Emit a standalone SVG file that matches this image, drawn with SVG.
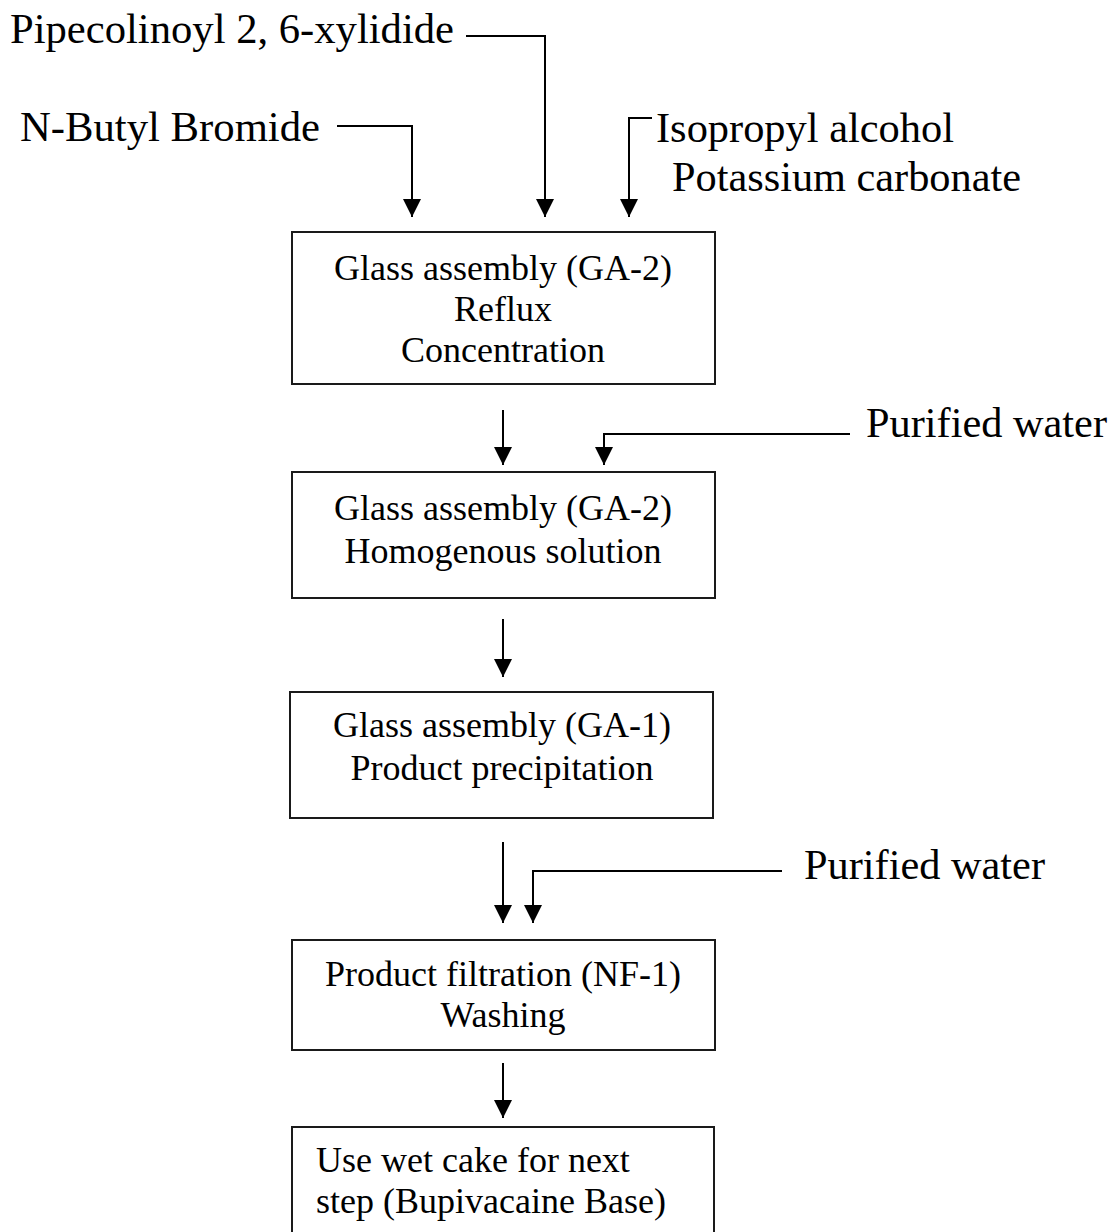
<svg xmlns="http://www.w3.org/2000/svg" width="1114" height="1232" viewBox="0 0 1114 1232">
<style>
  .lbl { font-family: "Liberation Serif", "Times New Roman", serif; font-size: 42px; fill: #000; }
  .btx { font-family: "Liberation Serif", "Times New Roman", serif; font-size: 36px; fill: #000; text-anchor: middle; }
  .btxl { font-family: "Liberation Serif", "Times New Roman", serif; font-size: 36px; fill: #000; }
  .box { fill: #fff; stroke: #1a1a1a; stroke-width: 2; }
  .arr { fill: none; stroke: #000; stroke-width: 2; marker-end: url(#ah); }
</style>
<defs>
  <marker id="ah" markerUnits="userSpaceOnUse" markerWidth="20" markerHeight="20" viewBox="0 0 20 20" refX="18" refY="10" orient="auto">
    <path d="M0,1 L18,10 L0,19 Z" fill="#000"/>
  </marker>
</defs>
<rect width="1114" height="1232" fill="#fff"/>

<g id="inputs">
  <text class="lbl" x="10" y="43" textLength="444" lengthAdjust="spacingAndGlyphs">Pipecolinoyl 2, 6-xylidide</text>
  <text class="lbl" x="20" y="141" textLength="300" lengthAdjust="spacingAndGlyphs">N-Butyl Bromide</text>
  <text class="lbl" x="656" y="142" textLength="298" lengthAdjust="spacingAndGlyphs">Isopropyl alcohol</text>
  <text class="lbl" x="672" y="191" textLength="349" lengthAdjust="spacingAndGlyphs">Potassium carbonate</text>
  <text class="lbl" x="866" y="437" textLength="241" lengthAdjust="spacingAndGlyphs">Purified water</text>
  <text class="lbl" x="804" y="879" textLength="241" lengthAdjust="spacingAndGlyphs">Purified water</text>
</g>

<g id="connectors">
  <polyline class="arr" points="466,36 545,36 545,217"/>
  <polyline class="arr" points="337,126 412,126 412,217"/>
  <polyline class="arr" points="652,118 629,118 629,217"/>
  <line class="arr" x1="503" y1="410" x2="503" y2="465"/>
  <polyline class="arr" points="850,434 604,434 604,465"/>
  <line class="arr" x1="503" y1="619" x2="503" y2="677"/>
  <line class="arr" x1="503" y1="842" x2="503" y2="923"/>
  <polyline class="arr" points="782,871 533,871 533,923"/>
  <line class="arr" x1="503" y1="1063" x2="503" y2="1118"/>
</g>

<g id="box1">
  <rect class="box" x="292" y="232" width="423" height="152"/>
  <text class="btx" x="503" y="280">Glass assembly (GA-2)</text>
  <text class="btx" x="503" y="321">Reflux</text>
  <text class="btx" x="503" y="362">Concentration</text>
</g>

<g id="box2">
  <rect class="box" x="292" y="472" width="423" height="126"/>
  <text class="btx" x="503" y="520">Glass assembly (GA-2)</text>
  <text class="btx" x="503" y="563">Homogenous solution</text>
</g>

<g id="box3">
  <rect class="box" x="290" y="692" width="423" height="126"/>
  <text class="btx" x="502" y="737">Glass assembly (GA-1)</text>
  <text class="btx" x="502" y="780">Product precipitation</text>
</g>

<g id="box4">
  <rect class="box" x="292" y="940" width="423" height="110"/>
  <text class="btx" x="503" y="986">Product filtration (NF-1)</text>
  <text class="btx" x="503" y="1027">Washing</text>
</g>

<g id="box5">
  <rect class="box" x="292" y="1127" width="422" height="130"/>
  <text class="btxl" x="316" y="1172">Use wet cake for next</text>
  <text class="btxl" x="316" y="1213">step (Bupivacaine Base)</text>
</g>
</svg>
